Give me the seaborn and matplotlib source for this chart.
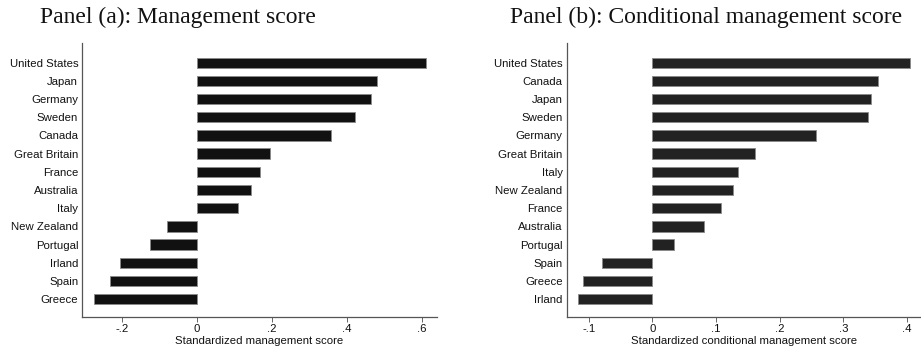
import matplotlib
matplotlib.use("Agg")
import matplotlib.pyplot as plt
import seaborn as sns
import pandas as pd

# Panel (a): management score by country
countries_a = ["United States", "Japan", "Germany", "Sweden", "Canada",
               "Great Britain", "France", "Australia", "Italy", "New Zealand",
               "Portugal", "Irland", "Spain", "Greece"]
scores_a = [0.611, 0.480, 0.466, 0.423, 0.358, 0.196, 0.169, 0.144, 0.109,
            -0.080, -0.124, -0.205, -0.231, -0.274]

# Panel (b): conditional management score by country
countries_b = ["United States", "Canada", "Japan", "Sweden", "Germany",
               "Great Britain", "Italy", "New Zealand", "France", "Australia",
               "Portugal", "Spain", "Greece", "Irland"]
scores_b = [0.405, 0.354, 0.343, 0.339, 0.257, 0.161, 0.134, 0.126, 0.1075,
            0.081, 0.034, -0.079, -0.109, -0.117]

ticks_a = [-0.2, 0, 0.2, 0.4, 0.6]
ticklabels_a = ["-.2", "0", ".2", ".4", ".6"]
ticks_b = [-0.1, 0, 0.1, 0.2, 0.3, 0.4]
ticklabels_b = ["-.1", "0", ".1", ".2", ".3", ".4"]

sns.set_style("white")
plt.rcParams["font.family"] = ["Liberation Sans", "DejaVu Sans"]

W, H = 921, 352
fig = plt.figure(figsize=(W / 100, H / 100), dpi=100)

def px_axes(left, right, top, bottom):
    return fig.add_axes([left / W, 1 - bottom / H, (right - left) / W, (bottom - top) / H])

ax_a = px_axes(82.3, 436.7, 43.3, 317.3)
ax_b = px_axes(566.7, 920.5, 43.3, 317.3)

panels = [
    (ax_a, countries_a, scores_a, "#111111", (-0.305, 0.64), ticks_a, ticklabels_a,
     "Standardized management score"),
    (ax_b, countries_b, scores_b, "#222222", (-0.1346, 0.421), ticks_b, ticklabels_b,
     "Standardized conditional management score"),
]

for ax, cats, vals, col, xlim, ticks, tlabels, xlabel in panels:
    df = pd.DataFrame({"country": cats, "score": vals})
    sns.barplot(data=df, x="score", y="country", orient="h", color=col,
                saturation=1, width=0.57, edgecolor="#8a8a8a", linewidth=0.6, ax=ax)
    ax.set_xlim(*xlim)
    ax.set_ylim(14.0, -1.07)
    ax.set_xticks(ticks)
    ax.set_xticklabels(tlabels)
    ax.set_xlabel(xlabel, fontsize=8.2, color="#111111", labelpad=1.0)
    ax.set_ylabel("")
    for s in ["top", "right"]:
        ax.spines[s].set_visible(False)
    for s in ["left", "bottom"]:
        ax.spines[s].set_color("#555555")
        ax.spines[s].set_linewidth(0.9)
    ax.tick_params(axis="x", direction="out", length=3.5, width=0.7, color="#666666",
                   labelsize=8.2, labelcolor="#111111", pad=1.5, bottom=True)
    ax.tick_params(axis="y", length=0, labelsize=8.2, labelcolor="#111111", pad=3)

title_kw = dict(family=["Liberation Serif", "DejaVu Serif"], fontsize=17,
                color="#111111", ha="center", va="center")
fig.text(178 / W, 1 - 17 / H, "Panel (a): Management score", **title_kw)
fig.text(706 / W, 1 - 17 / H, "Panel (b): Conditional management score", **title_kw)

fig.savefig("out.png", dpi=100, facecolor="white")
